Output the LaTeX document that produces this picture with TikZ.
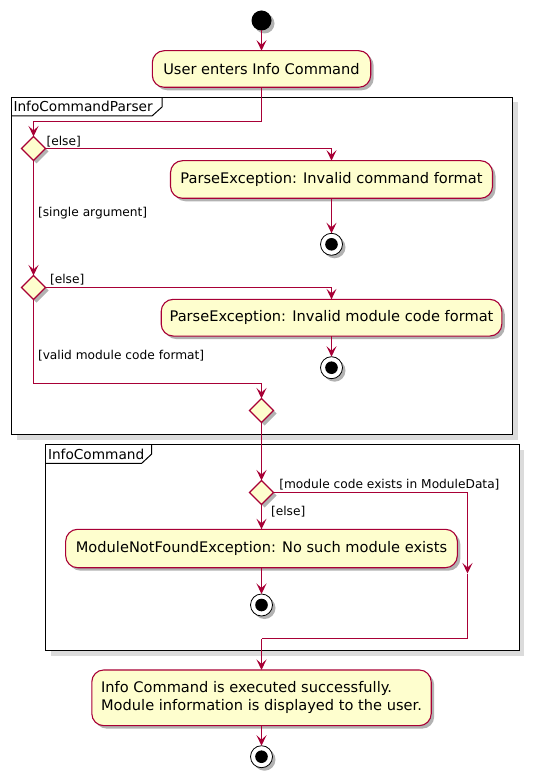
\documentclass[tikz,border=0pt]{standalone}
\usepackage{fontspec}
\setmainfont{DejaVu Sans}
\usetikzlibrary{shapes.geometric,arrows.meta,shadows}
\definecolor{pumlred}{HTML}{A80036}
\definecolor{pumlfill}{HTML}{FEFECE}
\begin{document}
\begin{tikzpicture}[x=1pt,y=-1pt,
  every node/.style={inner sep=0pt, outer sep=0pt},
  shad/.style={drop shadow={shadow xshift=3pt, shadow yshift=-3pt, opacity=0.3, fill=black}},
  act/.style={draw=pumlred, fill=pumlfill, line width=1.1pt, rounded corners=12pt,
    font=\fontsize{14.6}{18}\selectfont, shad},
  dec/.style={diamond, draw=pumlred, fill=pumlfill, line width=1.1pt,
    minimum width=24pt, minimum height=24pt, shad},
  startnode/.style={circle, fill=black, minimum size=20pt, shad},
  stopnode/.style={circle, draw=black, fill=white, line width=0.8pt, minimum size=22pt, shad,
    path picture={\fill[black] (path picture bounding box.center) circle (6.3pt);}},
  framebox/.style={draw=black, fill=white, line width=1pt, anchor=north west,
    drop shadow={shadow xshift=5pt, shadow yshift=-5pt, opacity=1, fill=black!14}},
  framedeco/.style={draw=black, line width=1pt},
  frametitle/.style={anchor=west, font=\fontsize{13.7}{16}\selectfont},
  guard/.style={anchor=west, font=\fontsize{12.2}{14}\selectfont},
  flow/.style={draw=pumlred, line width=1.1pt, -{Stealth[length=10.5pt,width=10pt,inset=4.5pt]}},
  flowplain/.style={draw=pumlred, line width=1.1pt}
]
\useasboundingbox (0,0) rectangle (535,783);

% frames
\node[framebox, minimum width=501pt, minimum height=337pt] (f1) at (11.5,97.5) {};
\draw[framedeco] (11.5,116) -- (152,116) -- (162,107) -- (162,97.5);
\node[frametitle] (f1t) at (13.5,106.8) {InfoCommandParser};

\node[framebox, minimum width=473.6pt, minimum height=206.4pt] (f2) at (45.5,444.5) {};
\draw[framedeco] (45.5,463.3) -- (141.7,463.3) -- (151.7,454) -- (151.7,444.5);
\node[frametitle] (f2t) at (48,454) {InfoCommand};

% nodes
\node[startnode] (start) at (261.5,20.5) {};
\node[act, minimum width=218.4pt, minimum height=36.6pt] (a1) at (261.5,69) {User enters Info Command};

\node[dec] (d1) at (33.5,148.5) {};
\node[act, minimum width=322pt, minimum height=37.6pt] (a2) at (331.5,179.5) {ParseException: Invalid command format};
\node[stopnode] (s1) at (331.5,244.3) {};

\node[dec] (d2) at (33.5,287.5) {};
\node[act, minimum width=340.6pt, minimum height=36.7pt] (a3) at (331.5,317.7) {ParseException: Invalid module code format};
\node[stopnode] (s2) at (331.5,367.7) {};

\node[dec] (m1) at (261.5,410.5) {};

\node[dec] (d3) at (261.5,492.5) {};
\node[act, minimum width=391.7pt, minimum height=38.4pt] (a4) at (261.5,548.5) {ModuleNotFoundException: No such module exists};
\node[stopnode] (s3) at (261.5,605) {};

\node[act, minimum width=339.4pt, minimum height=55.7pt, align=left] (a5) at (261.5,697.8)
  {Info Command is executed successfully.\\Module information is displayed to the user.};
\node[stopnode] (s4) at (261.5,756.7) {};

% junction coordinates
\coordinate (j1) at (261.5,121.5);
\coordinate (j2) at (33.5,383.5);
\coordinate (j3) at (467.5,573.5);
\coordinate (j4) at (467.5,638.5);
\coordinate (j5) at (261.5,638.5);

% connectors
\draw[flow] (start) -- (a1);
\draw[flow] (a1.south) -- (j1) -| (d1.north);
\draw[flow] (d1.east) -| (a2.north);
\draw[flow] (a2) -- (s1);
\draw[flow] (d1.south) -- (d2.north);
\draw[flow] (d2.east) -| (a3.north);
\draw[flow] (a3) -- (s2);
\draw[flow] (d2.south) -- (j2) -| (m1.north);
\draw[flow] (m1.south) -- (d3.north);
\draw[flow] (d3.south) -- (a4.north);
\draw[flow] (a4) -- (s3);
\draw[flow] (d3.east) -| (j3);
\draw[flowplain] (j3) -- (j4) -- (j5);
\draw[flow] (j5) -- (a5.north);
\draw[flow] (a5) -- (s4);

% guards
\node[guard] (g1) at (46.5,141.5) {[else]};
\node[guard] (g2) at (38,212.7) {[single argument]};
\node[guard] (g3) at (50,280) {[else]};
\node[guard] (g4) at (38,356) {[valid module code format]};
\node[guard] (g5) at (279.3,485) {[module code exists in ModuleData]};
\node[guard] (g6) at (271,511.7) {[else]};
\end{tikzpicture}
\end{document}
